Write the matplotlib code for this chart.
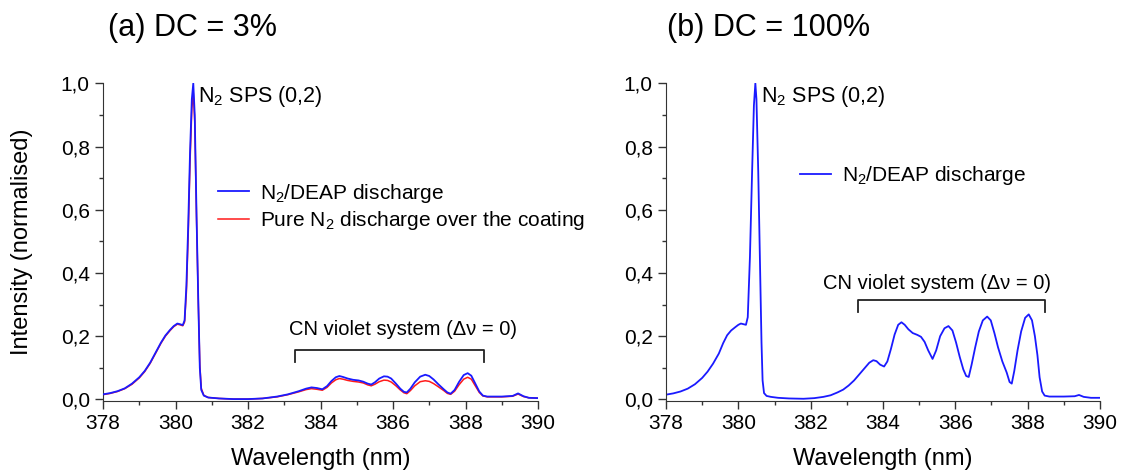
import matplotlib
matplotlib.use('Agg')
import matplotlib.pyplot as plt
from matplotlib.ticker import MultipleLocator, FuncFormatter

# DC = 3 % spectra (wavelength in nm, normalised intensity)
wl_a = [378.0, 378.2, 378.4, 378.6, 378.8, 379.0, 379.15, 379.3, 379.45, 379.6,
        379.72, 379.85, 379.95, 380.05, 380.12, 380.2, 380.25, 380.3, 380.35, 380.4,
        380.45, 380.49, 380.53, 380.58, 380.63, 380.67, 380.71, 380.78, 380.9, 381.2,
        381.6, 382.0, 382.4, 382.8, 383.1, 383.4, 383.6, 383.75, 383.9, 384.05,
        384.18, 384.3, 384.42, 384.52, 384.62, 384.75, 384.9, 385.05, 385.18, 385.3,
        385.4, 385.5, 385.62, 385.75, 385.85, 385.95, 386.08, 386.2, 386.3, 386.38,
        386.48, 386.6, 386.75, 386.89, 387.0, 387.12, 387.25, 387.4, 387.5, 387.59,
        387.7, 387.82, 387.95, 388.06, 388.16, 388.27, 388.38, 388.48, 388.6, 389.0,
        389.3, 389.45, 389.6, 389.75, 390.0]
deap_a = [.016, .02, .026, .035, .05, .07, .09, .116, .148, .18,
          .202, .22, .232, .24, .238, .235, .25, .36, .55, .78,
          .95, 1.0, .90, .58, .30, .10, .03, .012, .006, .003,
          .001, .001, .003, .009, .016, .026, .034, .038, .036, .032,
          .042, .058, .07, .074, .071, .066, .062, .06, .056, .05,
          .047, .054, .066, .073, .072, .066, .05, .034, .024, .022,
          .034, .054, .072, .078, .074, .063, .048, .032, .022, .018,
          .03, .055, .077, .083, .075, .05, .025, .012, .009, .009,
          .011, .019, .01, .005, .004]
pure_a = [.015, .019, .025, .034, .048, .068, .088, .114, .146, .178,
          .2, .218, .23, .238, .236, .233, .245, .34, .52, .75,
          .92, .97, .88, .57, .30, .11, .035, .013, .006, .003,
          .001, .001, .003, .008, .015, .024, .031, .034, .032, .029,
          .038, .052, .062, .066, .064, .06, .057, .055, .052, .046,
          .043, .048, .056, .061, .06, .055, .043, .03, .021, .018,
          .028, .043, .056, .059, .057, .05, .04, .028, .019, .016,
          .026, .046, .064, .070, .064, .043, .022, .011, .008, .008,
          .01, .017, .009, .005, .004]

# DC = 100 % spectrum
wl_b = [378.0, 378.2, 378.4, 378.6, 378.8, 379.0, 379.15, 379.3, 379.46, 379.58,
        379.69, 379.8, 379.92, 380.0, 380.07, 380.14, 380.21, 380.26, 380.32, 380.38,
        380.43, 380.47, 380.5, 380.55, 380.6, 380.64, 380.67, 380.71, 380.78, 380.9,
        381.1, 381.4, 381.8, 382.1, 382.35, 382.55, 382.74, 382.9, 383.05, 383.2,
        383.35, 383.5, 383.62, 383.73, 383.82, 383.92, 384.03, 384.12, 384.22, 384.32,
        384.42, 384.51, 384.6, 384.7, 384.82, 384.95, 385.05, 385.15, 385.25, 385.37,
        385.47, 385.58, 385.7, 385.81, 385.92, 386.02, 386.12, 386.22, 386.3, 386.37,
        386.45, 386.55, 386.65, 386.76, 386.88, 386.98, 387.08, 387.18, 387.3, 387.42,
        387.5, 387.56, 387.63, 387.72, 387.82, 387.93, 388.03, 388.12, 388.2, 388.27,
        388.33, 388.4, 388.47, 388.6, 389.0, 389.3, 389.42, 389.55, 389.75, 390.0]
deap_b = [.015, .019, .025, .034, .048, .068, .088, .113, .145, .178,
          .203, .218, .229, .236, .24, .238, .236, .26, .45, .72,
          .93, 1.0, .95, .72, .42, .18, .06, .02, .011, .008,
          .005, .003, .002, .004, .008, .013, .022, .031, .044, .06,
          .08, .1, .116, .124, .121, .11, .104, .12, .16, .205,
          .236, .244, .236, .222, .21, .204, .198, .182, .155, .128,
          .155, .2, .225, .232, .218, .18, .135, .095, .074, .071,
          .11, .165, .215, .25, .262, .25, .21, .165, .12, .085,
          .055, .05, .09, .155, .215, .258, .269, .25, .2, .14,
          .07, .025, .012, .009, .009, .01, .014, .008, .005, .005]

plt.rcParams['font.family'] = ['Liberation Sans', 'DejaVu Sans']
plt.rcParams['mathtext.fontset'] = 'custom'
plt.rcParams['mathtext.rm'] = 'Liberation Sans'
plt.rcParams['mathtext.it'] = 'Liberation Sans:italic'

fig = plt.figure(figsize=(11.26, 4.76), dpi=100)
ax1 = fig.add_axes([0.0915, 0.1576, 0.3863, 0.6674])
ax2 = fig.add_axes([0.5915, 0.1576, 0.3854, 0.6674])

blue = '#1a1aff'
red = '#ff1a1a'

ax1.plot(wl_a, deap_a, color=blue, lw=1.3, zorder=3, label=r'N$_\mathrm{2}$/DEAP discharge')
ax1.plot(wl_a, pure_a, color=red, lw=1.1, zorder=2, label=r'Pure N$_\mathrm{2}$ discharge over the coating')
ax2.plot(wl_b, deap_b, color=blue, lw=1.3, label=r'N$_\mathrm{2}$/DEAP discharge')

comma = FuncFormatter(lambda v, p: f'{v:.1f}'.replace('.', ','))
for ax in (ax1, ax2):
    ax.set_xlim(378, 390)
    ax.set_ylim(-0.005, 1.0)
    ax.xaxis.set_major_locator(MultipleLocator(2))
    ax.xaxis.set_minor_locator(MultipleLocator(1))
    ax.yaxis.set_major_locator(MultipleLocator(0.2))
    ax.yaxis.set_minor_locator(MultipleLocator(0.1))
    ax.yaxis.set_major_formatter(comma)
    ax.spines['top'].set_visible(False)
    ax.spines['right'].set_visible(False)
    ax.spines['left'].set_color('#333333')
    ax.spines['bottom'].set_color('#333333')
    ax.tick_params(which='major', direction='out', length=6, width=1, labelsize=15, color='#333333')
    ax.tick_params(which='minor', direction='out', length=3, width=1, color='#333333')
    ax.set_xlabel('Wavelength (nm)', fontsize=17, labelpad=11)
    ax.text(380.62, 0.957, r'N$_\mathrm{2}$ SPS (0,2)', fontsize=15.5, va='center', ha='left')

ax1.set_ylabel('Intensity (normalised)', fontsize=17)
ax1.yaxis.set_label_coords(-0.16, 0.5)

# CN violet system brackets
ax1.plot([383.3, 383.3, 388.5, 388.5], [0.118, 0.156, 0.156, 0.118], color='#222222', lw=1.3)
ax1.text(386.28, 0.222, 'CN violet system (Δν = 0)', fontsize=14.5, ha='center', va='center')
ax2.plot([383.3, 383.3, 388.47, 388.47], [0.278, 0.316, 0.316, 0.278], color='#222222', lw=1.3)
ax2.text(385.49, 0.367, 'CN violet system (Δν = 0)', fontsize=14.5, ha='center', va='center')

ax1.legend(loc='upper left', bbox_to_anchor=(0.264, 0.69), frameon=False, fontsize=15,
           handlelength=1.5, handletextpad=0.5, labelspacing=0.2, borderpad=0, borderaxespad=0)
ax2.legend(loc='upper left', bbox_to_anchor=(0.309, 0.745), frameon=False, fontsize=15,
           handlelength=1.5, handletextpad=0.5, borderpad=0, borderaxespad=0)

fig.text(108 / 1126, 1 - 28 / 476, '(a) DC = 3%', fontsize=22, va='center', ha='left')
fig.text(667 / 1126, 1 - 28 / 476, '(b) DC = 100%', fontsize=22, va='center', ha='left')

fig.savefig('out.png', dpi=100)
